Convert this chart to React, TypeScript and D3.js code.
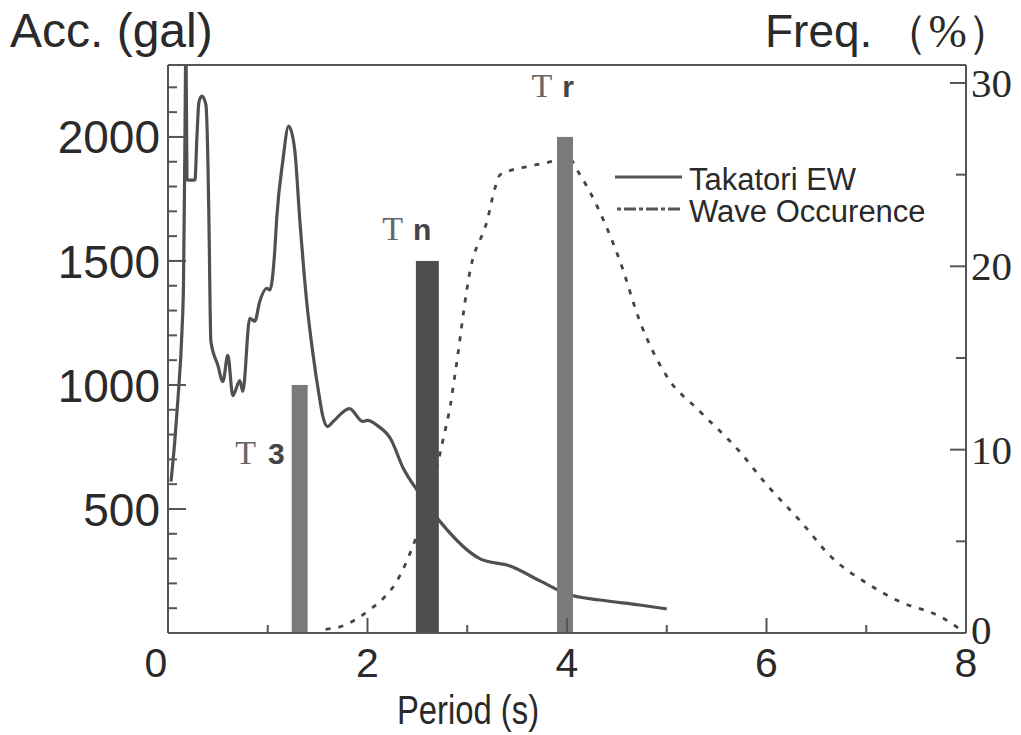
import * as d3 from "d3";

// Takatori EW acceleration response spectrum (left axis, gal)
const accPeriod = [0.03, 0.07, 0.1, 0.14, 0.155, 0.17, 0.18, 0.19, 0.2, 0.27, 0.29, 0.31, 0.34, 0.38, 0.4, 0.41, 0.43, 0.5, 0.55, 0.6, 0.65, 0.72, 0.75, 0.82, 0.87, 0.92, 0.99, 1.02, 1.07, 1.09, 1.15, 1.21, 1.27, 1.32, 1.39, 1.45, 1.52, 1.55, 1.6, 1.65, 1.82, 1.95, 2.0, 2.1, 2.23, 2.36, 2.5, 2.73, 3.13, 3.43, 3.73, 4.0, 4.33, 4.73, 5.0];
const accValue = [610, 784, 945, 1216, 1400, 2000, 2400, 1830, 1826, 1826, 2000, 2140, 2165, 2130, 1900, 1673, 1176, 1079, 1014, 1119, 957, 1018, 974, 1269, 1257, 1337, 1390, 1382, 1539, 1673, 1900, 2044, 1950, 1673, 1337, 1135, 945, 877, 832, 850, 905, 853, 857, 836, 784, 663, 574, 448, 299, 270, 210, 157, 133, 113, 97];

// Wave occurrence frequency (right axis, %)
const freqPeriod = [1.58, 1.76, 1.9, 2.03, 2.16, 2.28, 2.4, 2.48, 2.6, 2.76, 2.83, 2.88, 3.03, 3.2, 3.28, 3.33, 3.66, 3.9, 4.0, 4.13, 4.3, 4.43, 4.53, 4.73, 5.0, 5.33, 5.73, 6.0, 6.34, 6.64, 7.04, 7.34, 7.74, 7.97];
const freqValue = [0.2, 0.4, 0.8, 1.3, 1.9, 2.7, 4.0, 5.1, 7.0, 10.6, 12.4, 14.2, 19.8, 22.5, 24.3, 25.0, 25.5, 25.8, 26.0, 25.0, 23.3, 21.7, 20.3, 17.0, 14.0, 12.1, 9.9, 8.1, 6.1, 4.2, 2.6, 1.7, 0.9, 0.1];

// Characteristic periods (bars, left axis)
const barNames = ["3", "n", "r"];
const barPeriod = [1.32, 2.6, 3.98];
const barWidth = [0.16, 0.23, 0.16];
const barValue = [1000, 1500, 2000];

const leftTicks = [500, 1000, 1500, 2000];
const rightTicks = [0, 10, 20, 30];
const xTicks = [0, 2, 4, 6, 8];

const M = { left: 168, right: 966, top: 65, bottom: 633 };
const SANS = "'Liberation Sans', Arial, sans-serif";
const SERIF = "'Liberation Serif', 'Times New Roman', serif";
const INK = "#2a2a2a";
const AX = "#555";

export default function App() {
  const x = d3.scaleLinear().domain([0, 8]).range([M.left, M.right]);
  const yL = d3.scaleLinear().domain([0, 2290]).range([M.bottom, M.top]);
  const yR = d3.scaleLinear().domain([0, 30.98]).range([M.bottom, M.top]);

  const accLine = d3
    .line<number>()
    .x((_, i) => x(accPeriod[i]))
    .y((d) => yL(d))
    .curve(d3.curveMonotoneX);
  const freqLine = d3
    .line<number>()
    .x((_, i) => x(freqPeriod[i]))
    .y((d) => yR(d))
    .curve(d3.curveMonotoneX);

  const barColor = ["#7a7a7a", "#4e4e4e", "#7a7a7a"];
  // label placement relative to each bar: [dx of text end from bar centre, dy of baseline from bar top]
  const labelPos = [
    [-15, 79],
    [4, -21],
    [9, -40],
  ];

  const minorL = d3.range(100, 2290, 100).filter((v) => v % 500 !== 0);
  const minorR = [5, 15, 25];
  const xMinor = [1, 3, 5, 7];

  return (
    <svg width={1021} height={735} style={{ display: "block", position: "absolute", left: 0, top: 0, background: "#fff" }}>
      <defs>
        <clipPath id="plot">
          <rect x={M.left} y={M.top} width={M.right - M.left} height={M.bottom - M.top} />
        </clipPath>
      </defs>

      {/* curves */}
      <g clipPath="url(#plot)">
        <path d={freqLine(freqValue) ?? ""} fill="none" stroke="#444" strokeWidth={2.8} strokeDasharray="5,8" />
        <path d={accLine(accValue) ?? ""} fill="none" stroke="#505050" strokeWidth={3.2} strokeLinejoin="round" />
      </g>

      {/* bars */}
      {barNames.map((n, i) => (
        <rect
          key={n}
          x={x(barPeriod[i] - barWidth[i] / 2)}
          y={yL(barValue[i])}
          width={x(barWidth[i]) - x(0)}
          height={yL(0) - yL(barValue[i])}
          fill={barColor[i]}
        />
      ))}

      {/* bar labels */}
      {barNames.map((n, i) => {
        const cx = i === 0 ? x(barPeriod[i] - barWidth[i] / 2) + 8 : x(barPeriod[i]);
        return (
          <text key={n} x={cx + labelPos[i][0]} y={yL(barValue[i]) + labelPos[i][1]} textAnchor="end">
            <tspan fontFamily={SERIF} fontSize={34} fill="#666">T</tspan>
            <tspan fontFamily={SANS} fontSize={30} fontWeight="bold" fill="#444" dx={i === 0 ? 12 : 10}>{n}</tspan>
          </text>
        );
      })}

      {/* frame */}
      <g stroke={AX} strokeWidth={2} fill="none">
        <line x1={M.left} x2={M.right} y1={M.top} y2={M.top} />
        <line x1={M.left} x2={M.right} y1={M.bottom} y2={M.bottom} />
        <line x1={M.left} x2={M.left} y1={M.top} y2={M.bottom} />
        <line x1={M.right} x2={M.right} y1={M.top} y2={M.bottom} />
      </g>

      {/* left ticks */}
      <g stroke={AX} strokeWidth={2}>
        {minorL.map((v) => (
          <line key={v} x1={M.left} x2={M.left + 9} y1={yL(v)} y2={yL(v)} />
        ))}
        {leftTicks.map((v) => (
          <line key={v} x1={M.left} x2={M.left + 18} y1={yL(v)} y2={yL(v)} />
        ))}
      </g>
      {leftTicks.map((v) => (
        <text key={v} x={M.left - 8} y={yL(v)} dy="0.36em" textAnchor="end" fontFamily={SANS} fontSize={46} fill={INK}>
          {v}
        </text>
      ))}

      {/* right ticks */}
      <g stroke={AX} strokeWidth={2}>
        {minorR.map((v) => (
          <line key={v} x1={M.right} x2={M.right - 10} y1={yR(v)} y2={yR(v)} />
        ))}
        {rightTicks.filter((v) => v > 0).map((v) => (
          <line key={v} x1={M.right} x2={M.right - 16} y1={yR(v)} y2={yR(v)} />
        ))}
      </g>
      {rightTicks.map((v) => (
        <text key={v} x={M.right + 5} y={yR(v) - (v === 0 ? 3 : 0)} dy="0.34em" fontFamily={SERIF} fontSize={41} fill={INK}>
          {v}
        </text>
      ))}

      {/* bottom ticks */}
      <g stroke={AX} strokeWidth={2}>
        {xMinor.map((v) => (
          <line key={v} x1={x(v)} x2={x(v)} y1={M.bottom} y2={M.bottom - 8} />
        ))}
        {xTicks.slice(1, -1).map((v) => (
          <line key={v} x1={x(v)} x2={x(v)} y1={M.bottom} y2={M.bottom - 15} />
        ))}
      </g>
      {xTicks.map((v, i) => (
        <text key={v} x={x(v) + (i === 0 ? -12 : 0)} y={677} textAnchor="middle" fontFamily={SANS} fontSize={41} fill={INK}>
          {v}
        </text>
      ))}

      {/* axis titles */}
      <text transform="translate(468,724) scale(0.8,1)" textAnchor="middle" fontFamily={SANS} fontSize={41} fill={INK}>
        Period (s)
      </text>
      <text x={10} y={47} fontFamily={SANS} fontSize={48} fill={INK}>
        Acc. (gal)
      </text>
      <text x={765} y={47} fontFamily={SANS} fontSize={46} fill={INK}>
        Freq.
        <tspan fontFamily={SERIF} fontWeight="normal" dx={10}>（%）</tspan>
      </text>

      {/* legend */}
      <g stroke="#555" strokeWidth={3}>
        <line x1={615} x2={682} y1={177} y2={177} />
        <line x1={617} x2={682} y1={209} y2={209} strokeDasharray="4,3,12,3" strokeWidth={2.8} />
      </g>
      <text x={689} y={190} fontFamily={SANS} fontSize={31} fill={INK}>
        Takatori EW
      </text>
      <text x={689} y={222} fontFamily={SANS} fontSize={31} fill={INK}>
        Wave Occurence
      </text>
    </svg>
  );
}
